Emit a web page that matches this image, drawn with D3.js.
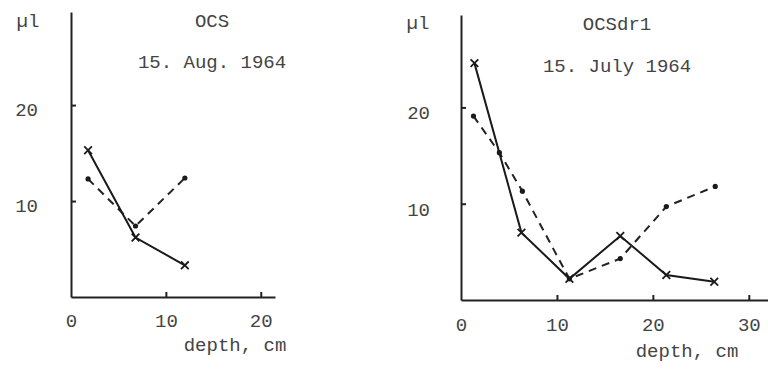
<!DOCTYPE html>
<html>
<head>
<meta charset="utf-8">
<script src="https://cdn.jsdelivr.net/npm/d3@7"></script>
<style>
  html, body { margin: 0; padding: 0; background: #fff; }
  svg text { font-family: "Liberation Mono", "DejaVu Sans Mono", monospace; fill: #444; }
  .axis path, .axis line { stroke: #222; stroke-width: 2; }
  .axis text { font-size: 19px; }
</style>
</head>
<body>
<svg id="chart" width="768" height="370"></svg>
<script>
// ─── Data ─────────────────────────────────────────────────────────────
// Left panel: OCS, 15. Aug. 1964
const ocsDepthSolid  = [1.8, 6.8, 12.0];
const ocsSolid       = [15.3, 6.2, 3.3];
const ocsDepthDashed = [1.8, 6.8, 12.0];
const ocsDashed      = [12.3, 7.4, 12.4];

// Right panel: OCSdr1, 15. July 1964
const drDepthSolid  = [1.4, 6.3, 11.3, 16.6, 21.4, 26.4];
const drSolid       = [24.6, 7.0, 2.2, 6.65, 2.6, 1.9];
const drDepthDashed = [1.3, 4.0, 6.4, 11.3, 16.6, 21.4, 26.5];
const drDashed      = [19.1, 15.3, 11.3, 2.2, 4.3, 9.7, 11.8];

const ocsXTicks = [0, 10, 20];
const drXTicks  = [0, 10, 20, 30];
const yTicks    = [10, 20];

// ─── Panels ───────────────────────────────────────────────────────────
const panels = [
  {
    title: 'OCS', date: '15. Aug. 1964',
    xMax: 21.5, xRange: [71, 275], yMax: 29.7, yRange: [297, 12],
    xTicks: ocsXTicks,
    solid: ocsDepthSolid.map((d, i) => [d, ocsSolid[i]]),
    dashed: ocsDepthDashed.map((d, i) => [d, ocsDashed[i]]),
    titleX: 212, titleY: 27, dateY: 68, unitX: 28, unitY: 27,
    yPad: 33, yDy: '0.55em', xPad: 17, xlabX: 235, xlabY: 351
  },
  {
    title: 'OCSdr1', date: '15. July 1964',
    xMax: 32, xRange: [461, 768], yMax: 29.6, yRange: [300, 15],
    xTicks: drXTicks,
    solid: drDepthSolid.map((d, i) => [d, drSolid[i]]),
    dashed: drDepthDashed.map((d, i) => [d, drDashed[i]]),
    titleX: 617, titleY: 30, dateY: 72, unitX: 418, unitY: 29,
    yPad: 31, yDy: '0.6em', xPad: 18, xlabX: 687, xlabY: 357
  }
];

const svg = d3.select('#chart');

panels.forEach(p => {
  const x = d3.scaleLinear().domain([0, p.xMax]).range(p.xRange);
  const y = d3.scaleLinear().domain([0, p.yMax]).range(p.yRange);
  const g = svg.append('g');

  // Axes: ticks point inward
  g.append('g').attr('class', 'axis')
    .attr('transform', `translate(0,${y(0)})`)
    .call(d3.axisBottom(x).tickValues(p.xTicks).tickFormat(d3.format('d'))
      .tickSize(-5).tickSizeOuter(0).tickPadding(p.xPad));
  g.append('g').attr('class', 'axis')
    .attr('transform', `translate(${x(0)},0)`)
    .call(d3.axisLeft(y).tickValues(yTicks).tickFormat(d3.format('d'))
      .tickSize(-5).tickSizeOuter(0).tickPadding(p.yPad))
    .selectAll('text').attr('dy', p.yDy);
  // no tick mark at the origin
  g.selectAll('.axis .tick').filter(d => d === 0).select('line').remove();

  // Lines
  const line = d3.line().x(d => x(d[0])).y(d => y(d[1]));
  g.append('path').datum(p.dashed)
    .attr('d', line).attr('fill', 'none')
    .attr('stroke', '#222').attr('stroke-width', 2)
    .attr('stroke-dasharray', '8,6');
  g.append('path').datum(p.solid)
    .attr('d', line).attr('fill', 'none')
    .attr('stroke', '#1a1a1a').attr('stroke-width', 2);

  // Markers
  g.selectAll('circle.dot').data(p.dashed).join('circle')
    .attr('class', 'dot')
    .attr('cx', d => x(d[0])).attr('cy', d => y(d[1]))
    .attr('r', 2.6).attr('fill', '#1a1a1a');
  g.selectAll('path.cross').data(p.solid).join('path')
    .attr('class', 'cross')
    .attr('transform', d => `translate(${x(d[0])},${y(d[1])})`)
    .attr('d', d3.symbol(d3.symbolTimes, 40))
    .attr('fill', 'none').attr('stroke', '#1a1a1a').attr('stroke-width', 1.8);

  // Texts
  g.append('text').attr('x', p.titleX).attr('y', p.titleY)
    .attr('text-anchor', 'middle').attr('font-size', 19).text(p.title);
  g.append('text').attr('x', p.titleX).attr('y', p.dateY)
    .attr('text-anchor', 'middle').attr('font-size', 19).text(p.date);
  g.append('text').attr('x', p.unitX).attr('y', p.unitY)
    .attr('text-anchor', 'middle').attr('font-size', 19).text('µl');
  g.append('text').attr('x', p.xlabX).attr('y', p.xlabY)
    .attr('text-anchor', 'middle').attr('font-size', 19).text('depth, cm');
});
</script>
</body>
</html>
